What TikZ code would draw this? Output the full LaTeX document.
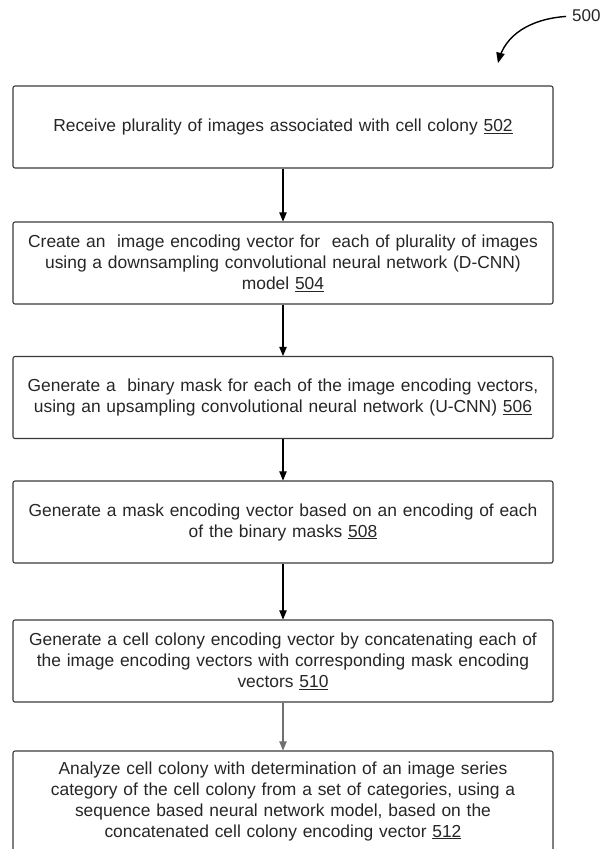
\documentclass[tikz,border=0pt]{standalone}
\usepackage{fontspec}
\setmainfont{Liberation Sans}
\usetikzlibrary{arrows, positioning}
\definecolor{boxline}{HTML}{3A3A3A}
\definecolor{flowgray}{HTML}{707070}
\tikzset{
  stepbox/.style={draw=boxline, line width=1.1pt, rounded corners=2pt, text width=540pt,
    inner sep=0pt, align=center, minimum height=82pt, font=\fontsize{17.4}{21}\selectfont, text=black!85},
  flow/.style={-triangle 45, line width=1.1pt}
}
\begin{document}
\begin{tikzpicture}[x=1pt, y=-1pt]
        \useasboundingbox (0,0) rectangle (602,849);
        \clip (0,0) rectangle (602,849);
        
        \node[stepbox] (recv) at (283, 127) {Receive plurality of images associated with cell colony \underline{502}};
        \node[stepbox] (dcnn) at (283, 263) {Create an~ image encoding vector for~ each of plurality of images\\ using a downsampling convolutional neural network (D-CNN)\\ model \underline{504}};
        \node[stepbox] (ucnn) at (283, 397.5) {Generate a~ binary mask for each of the image encoding vectors,\\ using an upsampling convolutional neural network (U-CNN) \underline{506}};
        \node[stepbox] (mask) at (283, 522) {Generate a mask encoding vector based on an encoding of each\\ of the binary masks \underline{508}};
        \node[stepbox] (concat) at (283, 661) {Generate a cell colony encoding vector by concatenating each of\\ the image encoding vectors with corresponding mask encoding\\ vectors \underline{510}};
        \node[stepbox, minimum height=100pt] (analyze) at (283, 801) {Analyze cell colony with determination of an image series\\ category of the cell colony from a set of categories, using a\\ sequence based neural network model, based on the\\ concatenated cell colony encoding vector \underline{512}};
        
        \draw[flow] (recv) -- (dcnn);
        \draw[flow] (dcnn) -- (ucnn);
        \draw[flow] (ucnn) -- (mask);
        \draw[flow] (mask) -- (concat);
        \draw[flow, flowgray] (concat) -- (analyze);
        
        \node[anchor=west, inner sep=0pt, font=\fontsize{17}{20}\selectfont, text=black!85] (fig) at (572, 16) {500};
        \draw[-triangle 45, line width=1.4pt, shorten <=6pt] (fig.west) .. controls (530, 19) and (505, 35) .. (498, 63);
        
      \end{tikzpicture}
\end{document}
